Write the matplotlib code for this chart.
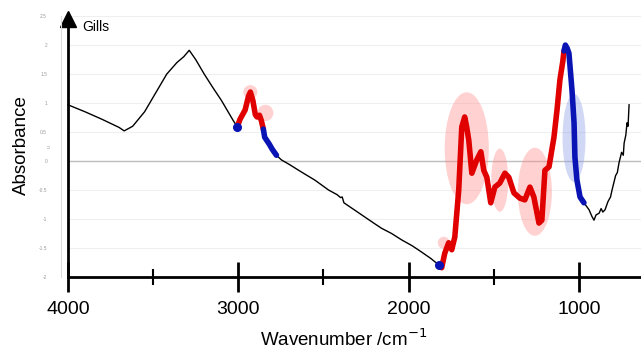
import matplotlib
matplotlib.use("Agg")
import matplotlib.pyplot as plt
from matplotlib.patches import Ellipse
from matplotlib.lines import Line2D
import numpy as np

plt.rcParams['font.family'] = ['Liberation Sans', 'DejaVu Sans']

# spectrum (wavenumber cm-1, absorbance)
wavenumber = [4000, 3900, 3800, 3700, 3670, 3620, 3550, 3480, 3420, 3360, 3320, 3288,
              3250, 3200, 3150, 3100, 3060, 3030, 3006,
              2990, 2960, 2940, 2929, 2915, 2900, 2890, 2876, 2865, 2853,
              2845, 2820, 2800, 2776,
              2747, 2700, 2629, 2550, 2470, 2420, 2400, 2390, 2380, 2300, 2200, 2159,
              2100, 2041, 1980, 1924, 1870, 1824,
              1806, 1788, 1765, 1747, 1729, 1706, 1688, 1671, 1660, 1647, 1629, 1600,
              1576, 1559, 1541, 1518, 1494, 1465, 1435, 1412, 1382, 1347, 1318, 1288,
              1265, 1235, 1218, 1200, 1176, 1147, 1129, 1112, 1095,
              1088, 1080, 1070, 1059, 1041, 1029, 1024, 1012, 994, 971,
              941, 925, 912, 900, 882, 870, 860, 847, 830, 815, 806, 785, 775, 765,
              750, 740, 735, 725, 718, 712, 706]
absorbance = [0.97, 0.85, 0.72, 0.58, 0.52, 0.60, 0.85, 1.20, 1.50, 1.70, 1.80, 1.91,
              1.75, 1.50, 1.27, 1.05, 0.85, 0.70, 0.59,
              0.72, 0.88, 1.12, 1.19, 1.05, 0.80, 0.76, 0.79, 0.70, 0.55,
              0.41, 0.30, 0.20, 0.10,
              0.02, -0.06, -0.19, -0.33, -0.50, -0.58, -0.63, -0.62, -0.72, -0.88, -1.08, -1.16,
              -1.25, -1.36, -1.46, -1.57, -1.68, -1.79,
              -1.84, -1.59, -1.41, -1.53, -1.31, -0.50, 0.59, 0.76, 0.60, 0.36, -0.21, 0.02,
              0.16, -0.16, -0.28, -0.72, -0.45, -0.38, -0.21, -0.28, -0.55, -0.64, -0.67, -0.45,
              -0.62, -1.07, -1.02, -0.16, -0.10, 0.41, 0.88, 1.40, 1.72,
              1.90, 2.00, 1.95, 1.86, 1.22, 0.66, 0.07, -0.33, -0.62, -0.72,
              -0.84, -0.95, -1.02, -0.93, -0.90, -0.82, -0.88, -0.84, -0.70, -0.62, -0.50, -0.25, -0.20, -0.03,
              0.15, 0.10, 0.31, 0.45, 0.66, 0.60, 0.97]

# highlighted bands: (red start, red end) and (blue start, blue end)
red_bands = [(3006, 2853), (1824, 1088)]
blue_bands = [(2853, 2776), (1088, 971)]
blue_dots = [3006, 1824]

# highlight ellipses: centre wn, centre abs, width (cm-1), height
pink_spots = [(2929, 1.19, 82, 0.24), (2841, 0.83, 94, 0.28), (1794, -1.41, 70, 0.21),
              (1659, 0.22, 259, 1.93), (1465, -0.33, 100, 1.09), (1259, -0.53, 200, 1.52)]
blue_spots = [(1029, 0.40, 135, 1.52)]

wn = np.array(wavenumber)
ab = np.array(absorbance)

fig = plt.figure(figsize=(6.41, 3.5), dpi=100)
ax = fig.add_axes([0.106, 0.2086, 0.894, 0.7454])
ax.set_xlim(4000, 636)
ax.set_ylim(-2.0, 2.5)

for y in np.arange(-1.5, 2.51, 0.5):
    ax.axhline(y, color='#efefef', lw=0.8, zorder=0)
ax.axhline(0, color='#bdbdbd', lw=1.0, zorder=0)

for cx, cy, w, h in pink_spots:
    ax.add_patch(Ellipse((cx, cy), w, h, facecolor=(1.0, 0.55, 0.55), alpha=0.4,
                         edgecolor='none', zorder=1))
for cx, cy, w, h in blue_spots:
    ax.add_patch(Ellipse((cx, cy), w, h, facecolor=(0.55, 0.62, 0.9), alpha=0.4,
                         edgecolor='none', zorder=1))

ax.plot(wn, ab, color='black', lw=1.0, zorder=2, clip_on=False)
for hi, lo in red_bands:
    m = (wn <= hi) & (wn >= lo)
    ax.plot(wn[m], ab[m], color='#e00000', lw=4.0, solid_capstyle='round', zorder=3, clip_on=False)
for hi, lo in blue_bands:
    m = (wn <= hi) & (wn >= lo)
    ax.plot(wn[m], ab[m], color='#0a14b4', lw=4.0, solid_capstyle='round', zorder=3, clip_on=False)
for d in blue_dots:
    ax.plot(d, ab[wn == d][0], 'o', color='#0a14b4', ms=5.5, zorder=4, clip_on=False)

# axes styling
ax.spines['top'].set_visible(False)
ax.spines['right'].set_visible(False)
ax.spines['left'].set_linewidth(2)
ax.spines['bottom'].set_linewidth(2)
ax.plot(4000, 2.45, marker='^', color='black', ms=11, clip_on=False, zorder=5)

ax.set_xticks([4000, 3000, 2000, 1000])
ax.set_xticks([3500, 2500, 1500], minor=True)
ax.tick_params(axis='x', which='major', direction='inout', length=21, width=2,
               labelsize=14, pad=7)
ax.tick_params(axis='x', which='minor', direction='inout', length=12, width=1.5)

# faint secondary scale left of the black axis
ax.set_yticks(np.arange(-2.0, 2.51, 0.5))
ax.set_yticklabels(['-2', '-1.5', '-1', '-0.5', '0', '0.5', '1', '1.5', '2', '2.5'])
ax.tick_params(axis='y', which='major', length=0, labelsize=3.5,
               labelcolor='#9a9a9a', pad=15)
fig.add_artist(Line2D([61 / 641, 61 / 641], [0.2086, 0.954], color='#dcdcdc', lw=0.8))

fig.text(0.536, 0.01, 'Wavenumber /cm$^{-1}$', fontsize=13.5, ha='center', va='baseline')
fig.text(0.033, 0.586, 'Absorbance', fontsize=13.5, rotation=90, ha='center', va='center')
fig.text(0.073, 0.58, 'u', fontsize=3.5, color='#9a9a9a', rotation=90, va='center')
fig.text(0.128, 0.923, 'Gills', fontsize=10, va='center')

fig.savefig('out.png', dpi=100)
